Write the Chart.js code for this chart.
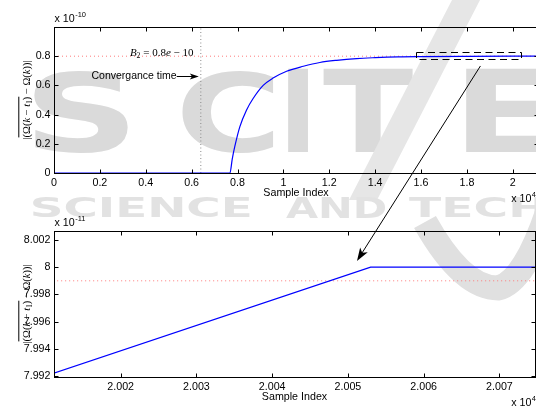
<!DOCTYPE html>
<html>
<head>
<meta charset="utf-8">
<title>Convergence of the estimate</title>
<script src="https://cdn.jsdelivr.net/npm/chart.js@4.4.1/dist/chart.umd.min.js"></script>
<style>
  html, body { margin: 0; padding: 0; background: #fff; }
  #stage { position: relative; width: 536px; height: 408px; overflow: hidden; background: #fff; }
  #stage canvas { position: absolute; left: 0; }
</style>
</head>
<body>
<div id="stage">
  <canvas id="mark" width="536" height="408" style="top:0;width:536px;height:408px"></canvas>
  <canvas id="upper" width="540" height="204" style="top:0;width:540px;height:204px"></canvas>
  <canvas id="lower" width="536" height="204" style="top:204px;width:536px;height:204px"></canvas>
  <canvas id="link" width="536" height="408" style="top:0;width:536px;height:408px"></canvas>
</div>
<script>
// ---- Upper panel: estimate vs. sample index (x in 1e4 samples, y in 1e-10) ----
const topX = [0, 0.767, 0.777, 0.788, 0.810, 0.839, 0.868, 0.912, 0.955, 1.014, 1.087,
              1.159, 1.232, 1.319, 1.400, 1.500, 1.600, 1.800, 2.000, 2.120];
const topY = [0, 0, 0.095, 0.18, 0.316, 0.43, 0.51, 0.60, 0.65, 0.697, 0.731,
              0.757, 0.772, 0.784, 0.790, 0.795, 0.797, 0.799, 0.800, 0.800];
const topXTicks = [0, 0.2, 0.4, 0.6, 0.8, 1, 1.2, 1.4, 1.6, 1.8, 2];
const topYTicks = [0, 0.2, 0.4, 0.6, 0.8];
const B2 = 0.8;          // bound B2, units of 1e-10
const convTime = 0.64;   // convergence time, units of 1e4 samples

// ---- Lower panel: close-up of the settling region (x in 1e4, y in 1e-11) ----
const zoomX = [2.0011, 2.0053, 2.0076];
const zoomY = [7.99218, 8.0, 8.0];
const zoomXTicks = [2.002, 2.003, 2.004, 2.005, 2.006, 2.007];
const zoomYTicks = [7.992, 7.994, 7.996, 7.998, 8, 8.002];
const zoomRef = 7.999;

// region of the upper panel that the lower panel enlarges, and the connecting arrow
const zoomBox = { x0: 1.58, x1: 2.035, y0: 0.781, y1: 0.827 };
const linkFrom = [1.859, 0.733];
const linkTo = [2.00512, 8.00046];

const SANS = '"Liberation Sans", Arial, Helvetica, sans-serif';
const SERIF = '"Liberation Serif", "Times New Roman", serif';
Chart.defaults.font.family = SANS;
Chart.defaults.font.size = 10.7;
Chart.defaults.color = '#000';

const zip = (xs, ys) => xs.map((x, i) => ({ x, y: ys[i] }));
const fmt = v => String(parseFloat(Number(v).toFixed(4)));

// ---- faint publisher watermark behind the figure ----
function fitGlyph(ctx, text, x0, y0, x1, y1, font) {
  ctx.save();
  ctx.font = font;
  const m = ctx.measureText(text);
  const gw = m.actualBoundingBoxLeft + m.actualBoundingBoxRight;
  const gh = m.actualBoundingBoxAscent + m.actualBoundingBoxDescent;
  ctx.translate(x0, y0);
  ctx.scale((x1 - x0) / gw, (y1 - y0) / gh);
  ctx.fillText(text, m.actualBoundingBoxLeft, m.actualBoundingBoxAscent);
  ctx.restore();
}
(function drawMark() {
  const ctx = document.getElementById('mark').getContext('2d');
  const big = 'bold 100px "DejaVu Sans", sans-serif';
  ctx.fillStyle = '#dadada';
  fitGlyph(ctx, 'S', 34, 69, 128, 152, big);
  fitGlyph(ctx, 'C', 181, 69, 273, 152, big);
  fitGlyph(ctx, 'I', 288, 69, 308, 152, big);
  fitGlyph(ctx, 'T', 323, 67, 413, 152, big);
  fitGlyph(ctx, 'E', 466, 69, 548, 152, big);
  ctx.fillStyle = '#e6e6e6';
  ctx.beginPath();
  ctx.moveTo(452, 0); ctx.lineTo(480, 0); ctx.lineTo(377, 200); ctx.lineTo(349, 200);
  ctx.closePath(); ctx.fill();
  ctx.fillStyle = '#e2e2e2';
  const small = 'bold 40px "DejaVu Sans", sans-serif';
  fitGlyph(ctx, 'SCIENCE', 32, 197, 250, 218, small);
  fitGlyph(ctx, 'AND', 286, 197, 386, 218, small);
  fitGlyph(ctx, 'TECHNOLOGY', 409, 197, 769, 218, small);
  ctx.strokeStyle = '#e0e0e0';
  ctx.lineWidth = 25; ctx.lineJoin = 'round'; ctx.lineCap = 'butt';
  ctx.beginPath();
  ctx.moveTo(425, 222);
  ctx.quadraticCurveTo(462, 288, 498, 288);
  ctx.quadraticCurveTo(525, 282, 550, 205);
  ctx.stroke();
})();

// ---- drawing helpers ----
function runsWidth(ctx, runs, size) {
  let w = 0;
  for (const r of runs) {
    ctx.font = `${r.it ? 'italic ' : ''}${r.sub ? size * 0.7 : size}px ${SERIF}`;
    w += ctx.measureText(r.t).width;
  }
  return w;
}
function drawRuns(ctx, runs, x, y, size) {
  let cx = x;
  const spans = [];
  for (const r of runs) {
    ctx.font = `${r.it ? 'italic ' : ''}${r.sub ? size * 0.7 : size}px ${SERIF}`;
    ctx.fillText(r.t, cx, y + (r.sub ? size * 0.25 : 0));
    const w = ctx.measureText(r.t).width;
    spans.push({ r, a: cx, b: cx + w });
    cx += w;
  }
  return spans;
}
const yLabelRuns = [
  { t: '|' }, { t: '(Ω(', o: 1 }, { t: 'k', it: 1, o: 1 }, { t: ' − ', o: 1 }, { t: 't', it: 1, o: 1 },
  { t: '1', sub: 1, o: 1 }, { t: ')', o: 1 }, { t: ' − Ω(' }, { t: 'k', it: 1 }, { t: '))|' }
];
function drawYLabel(ctx, cx, cy) {
  const size = 10.5;
  ctx.save();
  ctx.translate(cx, cy);
  ctx.rotate(-Math.PI / 2);
  ctx.fillStyle = '#000';
  ctx.textBaseline = 'alphabetic';
  const w = runsWidth(ctx, yLabelRuns, size);
  const spans = drawRuns(ctx, yLabelRuns, -w / 2, 3.5, size);
  const over = spans.filter(s => s.r.o);
  ctx.strokeStyle = '#000';
  ctx.lineWidth = 1;
  ctx.beginPath();
  ctx.moveTo(over[0].a, -7.2);
  ctx.lineTo(over[over.length - 1].b, -7.2);
  ctx.stroke();
  ctx.restore();
}
function drawExp(ctx, x, y, exp, align) {
  ctx.save();
  ctx.fillStyle = '#000';
  ctx.textBaseline = 'middle';
  ctx.font = `10.7px ${SANS}`;
  const base = 'x 10';
  const wb = ctx.measureText(base).width;
  ctx.font = `7.5px ${SANS}`;
  const we = ctx.measureText(exp).width;
  const left = align === 'right' ? x - wb - we - 0.5 : x;
  ctx.font = `10.7px ${SANS}`;
  ctx.fillText(base, left, y);
  ctx.font = `7.5px ${SANS}`;
  ctx.fillText(exp, left + wb + 0.5, y - 4.3);
  ctx.restore();
}
function arrowHead(ctx, x0, y0, x1, y1, len, half) {
  const a = Math.atan2(y1 - y0, x1 - x0);
  const c = Math.cos(a), s = Math.sin(a);
  ctx.beginPath();
  ctx.moveTo(x1, y1);
  ctx.lineTo(x1 - len * c + half * s, y1 - len * s - half * c);
  ctx.lineTo(x1 - len * 0.75 * c, y1 - len * 0.75 * s);
  ctx.lineTo(x1 - len * c - half * s, y1 - len * s + half * c);
  ctx.closePath();
  ctx.fill();
}

// box around the axes with inward tick marks, plus the axis label and power-of-ten notes
const frame = {
  id: 'frame',
  afterDraw(chart) {
    const { ctx, chartArea: a, scales: { x, y } } = chart;
    const L = Math.round(a.left) + 0.5, R = Math.round(a.right) + 0.5;
    const T = Math.round(a.top) + 0.5, B = Math.round(a.bottom) + 0.5;
    ctx.save();
    ctx.strokeStyle = '#000';
    ctx.lineWidth = 1;
    ctx.setLineDash([]);
    ctx.strokeRect(L, T, R - L, B - T);
    ctx.beginPath();
    x.ticks.forEach(t => {
      const p = Math.round(x.getPixelForValue(t.value)) + 0.5;
      ctx.moveTo(p, B); ctx.lineTo(p, B - 4);
      ctx.moveTo(p, T); ctx.lineTo(p, T + 4);
    });
    y.ticks.forEach(t => {
      const p = Math.round(y.getPixelForValue(t.value)) + 0.5;
      ctx.moveTo(L, p); ctx.lineTo(L + 4, p);
      ctx.moveTo(R, p); ctx.lineTo(R - 4, p);
    });
    ctx.stroke();
    ctx.restore();
    drawYLabel(ctx, 26, (a.top + a.bottom) / 2);
    const o = chart.options.plugins.frame;
    drawExp(ctx, 54.5, 19.5, o.yExp, 'left');
    drawExp(ctx, 536, 199, '4', 'right');
  }
};

const upperNotes = {
  id: 'upperNotes',
  afterDraw(chart) {
    const { ctx, scales: { x, y } } = chart;
    ctx.save();
    // zoomed region
    ctx.strokeStyle = '#000';
    ctx.lineWidth = 1;
    ctx.setLineDash([7, 4.5]);
    const bx0 = Math.round(x.getPixelForValue(zoomBox.x0)) + 0.5;
    const bx1 = Math.round(x.getPixelForValue(zoomBox.x1)) + 0.5;
    const by0 = Math.round(y.getPixelForValue(zoomBox.y1)) + 0.5;
    const by1 = Math.round(y.getPixelForValue(zoomBox.y0)) + 0.5;
    ctx.strokeRect(bx0, by0, bx1 - bx0, by1 - by0);
    ctx.setLineDash([]);
    // bound label
    ctx.fillStyle = '#000';
    ctx.textBaseline = 'alphabetic';
    const bRuns = [{ t: 'B', it: 1 }, { t: '2', sub: 1 }, { t: ' = 0.8' }, { t: 'e', it: 1 }, { t: ' − 10' }];
    const bw = runsWidth(ctx, bRuns, 11);
    drawRuns(ctx, bRuns, 193.5 - bw, y.getPixelForValue(B2) - 0.5, 11);
    // convergence time annotation
    ctx.font = `10.5px ${SANS}`;
    ctx.textBaseline = 'middle';
    const label = 'Convergance time';
    const tx = 91.5, ty = 76;
    ctx.fillText(label, tx, ty);
    const tipX = x.getPixelForValue(convTime) - 2;
    const startX = tx + ctx.measureText(label).width;
    ctx.beginPath();
    ctx.moveTo(startX, ty + 0.5); ctx.lineTo(tipX - 5, ty + 0.5);
    ctx.stroke();
    arrowHead(ctx, startX, ty + 0.5, tipX, ty + 0.5, 9, 3);
    ctx.restore();
  }
};

function axisX(min, max, ticks) {
  return {
    type: 'linear', position: 'bottom', min, max,
    grid: { display: false, drawTicks: false },
    border: { display: false },
    ticks: { padding: 4, autoSkip: false, maxRotation: 0, callback: v => fmt(v) },
    afterBuildTicks: s => { s.ticks = ticks.map(v => ({ value: v })); },
    afterFit: s => { s.height = 31; },
    title: { display: true, text: 'Sample Index', padding: { top: 0, bottom: 4.5 }, font: { size: 10.7 } }
  };
}
function axisY(min, max, ticks) {
  return {
    type: 'linear', position: 'left', min, max,
    grid: { display: false, drawTicks: false },
    border: { display: false },
    ticks: { padding: 3.5, autoSkip: false, callback: v => fmt(v) },
    afterBuildTicks: s => { s.ticks = ticks.map(v => ({ value: v })); },
    afterFit: s => { s.width = 54; }
  };
}
const common = (yExp, pad) => ({
  responsive: false, animation: false, devicePixelRatio: 1, events: [],
  layout: { padding: pad },
  plugins: { legend: { display: false }, tooltip: { enabled: false }, frame: { yExp } }
});
const line = (data, color, width, dash) => ({
  data, borderColor: color, borderWidth: width, borderDash: dash || [],
  showLine: true, pointRadius: 0, fill: false
});

const upper = new Chart(document.getElementById('upper'), {
  type: 'scatter',
  data: { datasets: [
    Object.assign(line(zip(topX, topY), '#0000ff', 1.2), { cubicInterpolationMode: 'monotone' }),
    line([{ x: 0, y: B2 }, { x: 2.2, y: B2 }], '#ff7a7a', 1, [1, 3]),
    line([{ x: convTime, y: 0 }, { x: convTime, y: 1 }], '#8a8a8a', 1, [1, 2.5])
  ]},
  options: Object.assign(common('-10', { top: 27, right: 2, left: 0, bottom: 0 }), {
    scales: { x: axisX(0, 2.110, topXTicks), y: axisY(0, 1, topYTicks) }
  }),
  plugins: [frame, upperNotes]
});

const lower = new Chart(document.getElementById('lower'), {
  type: 'scatter',
  data: { datasets: [
    line(zip(zoomX, zoomY), '#0000ff', 1.2),
    line([{ x: 2.0, y: zoomRef }, { x: 2.01, y: zoomRef }], '#ff7a7a', 1, [1, 3])
  ]},
  options: Object.assign(common('-11', { top: 27, right: 1, left: 0, bottom: 0 }), {
    scales: { x: axisX(2.00112, 2.00747, zoomXTicks), y: axisY(7.99193, 8.00266, zoomYTicks) }
  }),
  plugins: [frame]
});

// arrow linking the marked region to the close-up
(function drawLink() {
  const ctx = document.getElementById('link').getContext('2d');
  const x0 = upper.scales.x.getPixelForValue(linkFrom[0]);
  const y0 = upper.scales.y.getPixelForValue(linkFrom[1]);
  const x1 = lower.scales.x.getPixelForValue(linkTo[0]);
  const y1 = lower.scales.y.getPixelForValue(linkTo[1]) + 204;
  ctx.strokeStyle = '#000';
  ctx.fillStyle = '#000';
  ctx.lineWidth = 1;
  ctx.beginPath();
  ctx.moveTo(x0, y0);
  ctx.lineTo(x1 + (x0 - x1) * 0.04, y1 + (y0 - y1) * 0.04);
  ctx.stroke();
  arrowHead(ctx, x0, y0, x1, y1, 13, 4.5);
})();
</script>
</body>
</html>
